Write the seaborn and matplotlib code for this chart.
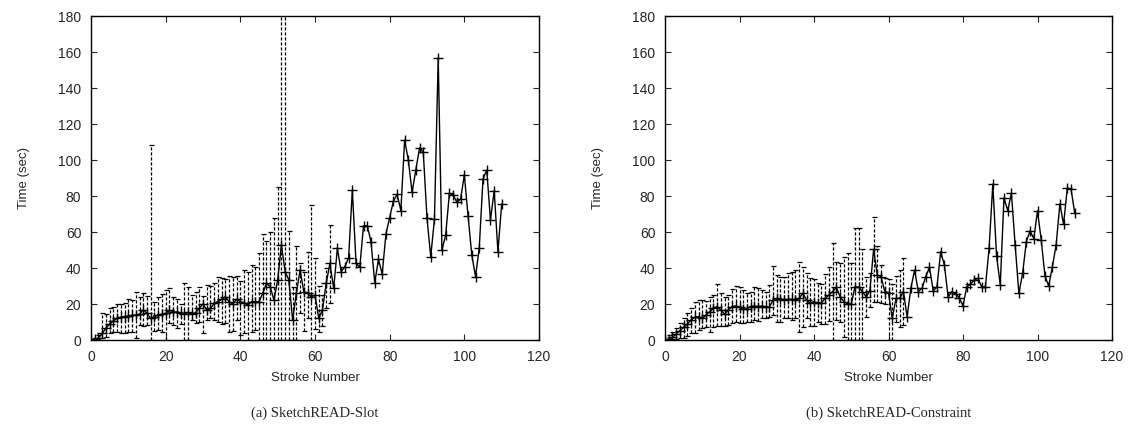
import numpy as np
import pandas as pd
import matplotlib
matplotlib.use("Agg")
import matplotlib.pyplot as plt
import seaborn as sns

# mean time per stroke, strokes 0..110
slot_mean = [0, 0.3, 1, 3.7, 6.5, 9, 10.7, 12, 12.6, 13, 13.3, 13.7, 13.9, 14.3, 16.7, 14.8,
             12, 13, 13.9, 14.4, 14.8, 16.7, 15.7, 15.4, 15.2, 14.4, 15.4, 14.4, 15.2, 17.6,
             20, 16.7, 17.6, 20.4, 21.3, 22.6, 24, 21.3, 20, 22.6, 21.3, 20.7, 19.4, 21.3,
             21.3, 21.3, 25.9, 31.5, 29.6, 22.2, 33.3, 52.8, 38, 33.3, 11, 25.9, 38.9, 26.9,
             25.9, 24, 25, 12, 16.7, 31.5, 42.6, 28.7, 51, 38, 40.7, 45.7, 83.3, 42.6, 40.4,
             63.5, 63.5, 54.6, 31.9, 44.8, 36.7, 58.9, 68, 77.2, 80.9, 71.9, 111, 100, 82,
             94.4, 106.7, 104.4, 67.6, 46.3, 67.2, 156.9, 50, 58.3, 81.5, 80.6, 76.5, 78.3,
             91.7, 68.9, 47.2, 35.2, 51.3, 89.4, 94.4, 66.7, 83, 49, 75.6]
# error bar ends, strokes 0..64
slot_hi = [0.5, 1, 3, 14.8, 14.4, 17.6, 18.5, 20, 20, 20.5, 23, 22, 26.8, 24, 26, 24.6,
           108.5, 21.3, 24, 25.6, 27.8, 28.7, 24, 23, 20, 31.9, 29.6, 25, 26.8, 29.3, 24.6,
           30.6, 30, 31.5, 35.2, 34.3, 34, 35.6, 35, 35.6, 33, 39, 38, 41.7, 40.7, 48.5, 58.9,
           55, 60.2, 68, 84.8, 250, 250, 60.7, 29.6, 52, 42.6, 38, 49, 75, 45.4, 30, 25, 40,
           63.9]
slot_lo = [0, 0, 0, 1, 1.5, 3.7, 4.6, 4.6, 4, 4, 4.5, 4.5, 1, 8.3, 8, 8.3, 0, 5.2, 5.5, 4.5,
           0, 9.3, 8.5, 6.5, 9, 0, 0, 11, 9.3, 10, 3.7, 11, 12, 11, 10, 9, 9.3, 4.6, 5, 11,
           2.8, 3.7, 0, 4.6, 5.5, 0, 0, 0, 0, 0, 0, 0, 0, 0, 0, 0, 14.8, 5, 12, 0, 6, 4.6, 8,
           18, 20.5]

cons_mean = [0, 0.4, 1.5, 3.3, 5.2, 7, 8.9, 11.1, 12.6, 13, 12, 13.9, 15.7, 17.6, 18.5, 16.7,
             14.4, 16.7, 18.5, 18.9, 18.1, 17, 17.4, 18.5, 18.9, 18.5, 18.9, 18.5, 18.1, 22.2,
             23.1, 22.6, 22.2, 22.6, 22.6, 22.2, 23.1, 25.9, 22.2, 20.4, 21.3, 20.4, 20.7,
             23.1, 25, 26.9, 29.3, 24, 21.3, 20, 20, 29.6, 29.3, 26.9, 24, 27.4, 50.4, 36.1,
             35.2, 26.9, 26.3, 12, 23.1, 23.1, 26.9, 13, 28.7, 38.9, 26.9, 28.7, 35.2, 40.4,
             27.4, 29.3, 49, 41.7, 24, 26.9, 25.6, 23.5, 18.9, 29.6, 31.1, 33.3, 34.3, 29.6,
             29.3, 50.9, 86.5, 46.9, 30.7, 79, 71.9, 81.5, 52.8, 25.9, 37, 54.6, 60.6, 56.3,
             71.7, 55.6, 35.6, 30, 40.7, 52.8, 75.6, 64.3, 84.3, 83.9, 70.4]
cons_hi = [0.5, 2.8, 4.6, 6.5, 9.3, 12, 14.8, 17.6, 21.3, 22.2, 22, 21.5, 24, 25, 31.1, 26.3,
           24, 25, 28.1, 30, 29.3, 27.8, 26, 26.9, 29.3, 28.7, 27.8, 26.9, 30.6, 41.1, 36.1,
           35.2, 35.2, 37.4, 38, 38.9, 43.5, 40.7, 37, 34.6, 33.7, 31.9, 31.1, 36.5, 40.4,
           53.7, 43.5, 43, 46.3, 48.1, 43, 62, 62, 50.4, 35.2, 37, 68.1, 52.2, 41.7, 34.3,
           33.7, 31, 35.6, 38.9, 45.4]
cons_lo = [0, 0, 0, 0.5, 1, 1, 2, 3.7, 4, 5.6, 6.5, 7.4, 4.6, 7.4, 7.8, 8, 7.8, 8.3, 9.3,
           10.2, 9.3, 9.6, 10.2, 10.2, 11, 10.6, 12, 12, 13, 13.9, 10.2, 10.2, 12, 12, 11, 12,
           4.6, 7.4, 12, 7.8, 8, 10, 9, 8.8, 10.7, 0, 11, 10, 1.9, 0, 0, 0, 0, 0, 13, 18.5,
           21.3, 21.3, 20.4, 20, 0, 0, 10.2, 7.4, 8.3]

captions = ["(a) SketchREAD-Slot", "(b) SketchREAD-Constraint"]

sns.set_style("ticks")
plt.rcParams['font.family'] = ['Liberation Sans', 'DejaVu Sans']
plt.rcParams['xtick.direction'] = 'in'
plt.rcParams['ytick.direction'] = 'in'

fig = plt.figure(figsize=(11.35, 4.33), dpi=100)
ax_a = fig.add_axes([91 / 1135, 93 / 433, 448 / 1135, 324 / 433])
ax_b = fig.add_axes([665 / 1135, 93 / 433, 447 / 1135, 324 / 433])

panels = [(ax_a, slot_mean, slot_lo, slot_hi), (ax_b, cons_mean, cons_lo, cons_hi)]

for ax, mean, lo, hi in panels:
    df = pd.DataFrame({'stroke': np.arange(len(mean)), 'time': mean})
    n = len(hi)
    m = np.array(mean[:n])
    err = [m - np.array(lo), np.array(hi) - m]
    eb = ax.errorbar(np.arange(n), m, yerr=err, fmt='none', ecolor='black',
                     elinewidth=0.9, capsize=1.8, capthick=0.9)
    eb[2][0].set_linestyle((0, (2.5, 1.5)))
    sns.lineplot(data=df, x='stroke', y='time', ax=ax, color='black', linewidth=1,
                 marker='+', markersize=6.5, markeredgewidth=1, markeredgecolor='black')

    ax.set_xlim(0, 120)
    ax.set_ylim(0, 180)
    ax.set_xticks(range(0, 121, 20))
    ax.set_yticks(range(0, 181, 20))
    ax.tick_params(labelsize=10, length=4, width=0.8, top=True, right=True, pad=7)
    for s in ax.spines.values():
        s.set_linewidth(1)
        s.set_color('black')
    ax.set_xlabel('Stroke Number', fontsize=9.5, labelpad=6)
    ax.set_ylabel('Time (sec)', fontsize=9.5, labelpad=20)

for ax, cap in zip([ax_a, ax_b], captions):
    fig.text(ax.get_position().x0 + ax.get_position().width / 2, 20 / 433, cap,
             ha='center', va='center', fontsize=10.5, family=['Liberation Serif'])

fig.savefig('out.png', dpi=100)
